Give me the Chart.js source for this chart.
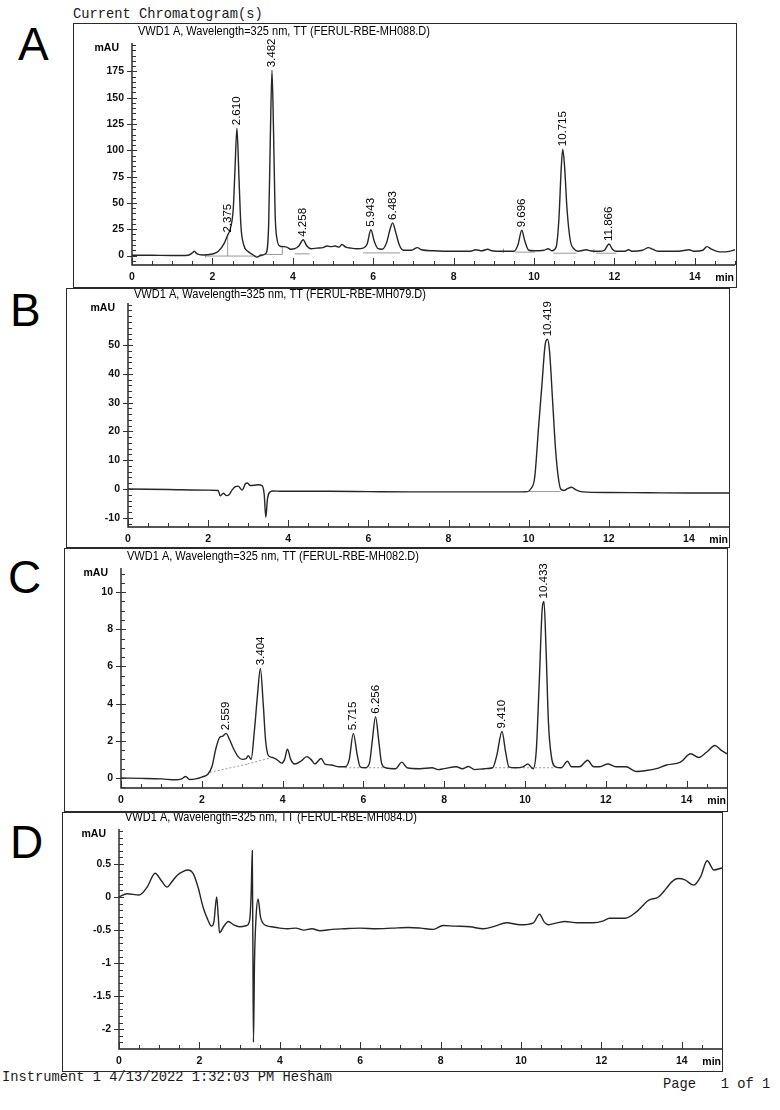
<!DOCTYPE html>
<html>
<head>
<meta charset="utf-8">
<script src="https://cdn.jsdelivr.net/npm/chart.js@4.4.0/dist/chart.umd.min.js"></script>
<style>
body { margin:0; width:780px; height:1110px; background:#fff; position:relative; overflow:hidden; font-family:"Liberation Sans", Arial, sans-serif; }
.mono { position:absolute; font-family:"Liberation Mono","DejaVu Sans Mono",monospace; font-size:13.75px; line-height:1; color:#1a1a1a; white-space:pre; }
.letter { position:absolute; font-size:46px; line-height:1; color:#000; }
.frame { position:absolute; border:1.6px solid #2a2a2a; box-sizing:border-box; }
canvas { position:absolute; }
</style>
</head>
<body>
<div class="mono" style="left:73px;top:8px">Current Chromatogram(s)</div>
<div class="mono" style="left:2px;top:1071px">Instrument 1 4/13/2022 1:32:03 PM Hesham</div>
<div class="mono" style="left:663px;top:1078px">Page   1 of 1</div>
<div class="letter" style="left:18px;top:21px">A</div>
<div class="letter" style="left:10px;top:287px">B</div>
<div class="letter" style="left:8px;top:554px">C</div>
<div class="letter" style="left:10px;top:819px">D</div>

<script>
// shared x axis (min)
var xTicks = [0, 2, 4, 6, 8, 10, 12, 14];

// A - FERUL-RBE-MH088.D
var timeA = [0, 0.5, 1.0, 1.4, 1.5, 1.55, 1.62, 1.75, 2.0, 2.15, 2.3, 2.375, 2.45, 2.52, 2.56, 2.61, 2.66, 2.71, 2.78, 2.88,
    3.0, 3.1, 3.2, 3.33, 3.4, 3.44, 3.482, 3.52, 3.56, 3.61, 3.68, 3.75, 3.85, 3.95, 4.05, 4.15, 4.258, 4.35, 4.45, 4.6,
    4.75, 4.85, 4.95, 5.05, 5.15, 5.22, 5.32, 5.45, 5.6, 5.75, 5.85, 5.943, 6.03, 6.12, 6.22, 6.33, 6.42, 6.483, 6.56, 6.65,
    6.75, 6.95, 7.1, 7.2, 7.5, 8.0, 8.4, 8.55, 8.7, 8.85, 8.95, 9.2, 9.5, 9.6, 9.696, 9.77, 9.87, 10.0, 10.25, 10.35,
    10.45, 10.55, 10.62, 10.68, 10.715, 10.76, 10.82, 10.9, 11.0, 11.1, 11.3, 11.4, 11.6, 11.75, 11.866, 11.95, 12.05, 12.25, 12.35, 12.45,
    12.7, 12.85, 12.95, 13.1, 13.5, 13.7, 13.85, 14.0, 14.2, 14.3, 14.42, 14.55, 14.7, 14.85, 15.0];
var mauA = [0.3, 0.2, 0, 0.3, 2.5, 4, 1.5, 0.5, 1.5, 4, 12, 19, 26, 45, 80, 121, 75, 28, 10, 4,
    1, -1.5, 0, 2, 30, 110, 176, 120, 40, 15, 9, 8.5, 8, 6, 6.5, 9, 15, 9, 6.5, 7,
    7.5, 9, 8.5, 9, 8, 10.5, 8, 7, 6.5, 7, 11, 24.5, 13, 6.5, 6, 12, 25, 31, 22, 10,
    5, 5, 7.5, 5.5, 4.5, 4, 4, 5.5, 4.5, 6, 4.5, 4, 4, 10, 24, 14, 5, 4.5, 5, 6.5,
    4.5, 8, 35, 85, 101, 85, 45, 15, 6, 4, 5.5, 4.5, 4, 5, 11, 6, 4, 4, 5.5, 4,
    5, 7.5, 6, 4, 4, 4.5, 5.5, 4, 5, 8.5, 6, 4, 3.5, 4, 5.5];
var peaksA = [2.375, 2.610, 3.482, 4.258, 5.943, 6.483, 9.696, 10.715, 11.866];
var yTicksA = [0, 25, 50, 75, 100, 125, 150, 175];
var baseA = [[1.83, -0.5, 3.10, -0.5], [2.38, -0.5, 2.38, 19], [1.83, -2, 1.83, 1.5], [3.17, 1, 3.74, 1], [3.74, 1, 3.74, 8],
    [4.05, 1.6, 4.42, 1.6], [5.75, 2.5, 6.67, 2.5], [9.24, 2.5, 9.24, 6.5], [9.53, 3.2, 10.02, 3.2], [10.48, 2.2, 11.06, 2.2],
    [11.49, 2.2, 11.49, 6], [11.55, 2.2, 12.05, 2.2]];

// B - FERUL-RBE-MH079.D
var timeB = [0, 1.0, 2.0, 2.25, 2.3, 2.38, 2.46, 2.52, 2.6, 2.68, 2.75, 2.85, 2.93, 2.98, 3.05, 3.15, 3.25, 3.35, 3.4, 3.44,
    3.48, 3.53, 3.62, 3.8, 5.0, 6.0, 7.0, 8.0, 9.0, 9.6, 9.97, 10.05, 10.15, 10.25, 10.33, 10.41, 10.47, 10.52, 10.6, 10.67,
    10.74, 10.8, 10.88, 10.98, 11.07, 11.18, 11.35, 12.0, 13.0, 14.0, 15.0];
var mauB = [0, -0.2, -0.4, -0.5, -2.4, -1.5, -2.3, -2.0, -0.3, 0.8, 1.0, -0.4, 1.8, 2.1, 1.2, 1.3, 1.5, 1.1, -2, -9.8,
    -3.5, -1.2, -0.7, -0.8, -0.8, -0.9, -1.0, -1.0, -1.0, -1.0, -0.9, 0, 4, 22, 36, 50, 52, 48, 30, 14,
    4, 0, -0.5, 0.2, 0.6, -0.3, -1.0, -1.2, -1.3, -1.4, -1.4];
var peaksB = [10.419];
var yTicksB = [-10, 0, 10, 20, 30, 40, 50];
var baseB = [[9.97, -0.9, 10.8, -0.9]];

// C - FERUL-RBE-MH082.D
var timeC = [0, 0.5, 1.0, 1.35, 1.5, 1.6, 1.7, 1.85, 2.0, 2.15, 2.25, 2.35, 2.45, 2.52, 2.6, 2.68, 2.78, 2.9, 3.0, 3.1,
    3.15, 3.22, 3.3, 3.38, 3.45, 3.52, 3.58, 3.65, 3.75, 3.85, 3.98, 4.05, 4.12, 4.2, 4.3, 4.45, 4.6, 4.7, 4.8, 4.95,
    5.05, 5.2, 5.4, 5.55, 5.65, 5.75, 5.85, 5.92, 6.05, 6.15, 6.22, 6.3, 6.38, 6.45, 6.55, 6.8, 6.95, 7.08, 7.4, 7.7,
    7.85, 8.0, 8.3, 8.45, 8.6, 8.75, 9.0, 9.2, 9.3, 9.43, 9.52, 9.6, 9.75, 9.95, 10.07, 10.2, 10.28, 10.35, 10.43, 10.47,
    10.52, 10.58, 10.65, 10.75, 10.9, 11.05, 11.15, 11.35, 11.55, 11.7, 11.85, 12.05, 12.25, 12.5, 12.75, 13.0, 13.25, 13.5, 13.85, 14.1,
    14.3, 14.5, 14.7, 14.85, 15.0];
var mauC = [0, -0.02, -0.05, -0.1, -0.05, 0.08, -0.08, -0.05, 0.05, 0.2, 0.6, 1.6, 2.2, 2.25, 2.4, 2.1, 1.6, 1.15, 1.0, 1.05,
    1.2, 1.0, 2.5, 4.5, 5.9, 4.0, 2.0, 1.2, 1.1, 1.0, 0.8, 1.0, 1.55, 1.0, 0.75, 0.9, 1.15, 1.0, 0.75, 1.05,
    0.75, 0.7, 0.6, 0.6, 1.0, 2.4, 1.2, 0.6, 0.55, 0.8, 2.0, 3.3, 2.0, 0.8, 0.55, 0.5, 0.85, 0.55, 0.5, 0.55,
    0.45, 0.5, 0.6, 0.5, 0.62, 0.45, 0.5, 0.55, 1.2, 2.5, 1.4, 0.6, 0.55, 0.6, 0.75, 0.5, 1.5, 5.0, 9.2, 9.5,
    7.0, 3.0, 1.2, 0.6, 0.55, 0.9, 0.6, 0.6, 0.95, 0.6, 0.6, 0.75, 0.6, 0.6, 0.35, 0.4, 0.5, 0.7, 0.85, 1.3,
    1.1, 1.4, 1.75, 1.5, 1.3];
var peaksC = [2.559, 3.404, 5.715, 6.256, 9.410, 10.433];
var yTicksC = [0, 2, 4, 6, 8, 10];
var baseC = [[2.2, 0.3, 3.13, 0.75], [3.13, 0.75, 3.77, 1.12], [5.55, 0.55, 6.54, 0.55], [9.26, 0.55, 10.7, 0.55]];

// D - FERUL-RBE-MH084.D
var timeD = [0, 0.2, 0.5, 0.7, 0.9, 1.05, 1.2, 1.3, 1.45, 1.6, 1.72, 1.85, 1.97, 2.09, 2.2, 2.3, 2.36, 2.43, 2.47, 2.5,
    2.6, 2.72, 2.85, 3.0, 3.18, 3.25, 3.29, 3.315, 3.33, 3.345, 3.37, 3.41, 3.46, 3.52, 3.62, 3.8, 4.0, 4.2, 4.4, 4.6,
    4.8, 5.0, 5.3, 5.6, 6.0, 6.4, 6.8, 7.2, 7.5, 7.82, 8.06, 8.35, 8.73, 9.06, 9.35, 9.64, 9.98, 10.31, 10.46, 10.58,
    10.68, 10.9, 11.09, 11.4, 11.8, 12.05, 12.2, 12.59, 12.88, 13.17, 13.42, 13.6, 13.75, 13.91, 14.08, 14.29, 14.47, 14.63, 14.8, 15.0];
var mauD = [0, 0.05, 0.03, 0.15, 0.36, 0.25, 0.15, 0.22, 0.33, 0.39, 0.41, 0.35, 0.14, -0.15, -0.33, -0.44, -0.38, 0.0, -0.3, -0.54,
    -0.45, -0.37, -0.42, -0.45, -0.43, -0.35, 0.1, 0.7, -0.7, -2.2, -1.0, -0.3, -0.03, -0.3, -0.42, -0.45, -0.47, -0.48, -0.47, -0.5,
    -0.48, -0.51, -0.49, -0.48, -0.47, -0.48, -0.47, -0.46, -0.47, -0.49, -0.43, -0.44, -0.45, -0.48, -0.44, -0.39, -0.42, -0.39, -0.26, -0.38,
    -0.42, -0.39, -0.37, -0.39, -0.39, -0.36, -0.32, -0.32, -0.22, -0.05, 0.0, 0.12, 0.23, 0.28, 0.26, 0.18, 0.31, 0.55, 0.41, 0.44];
var peaksD = [];
var yTicksD = [-2, -1.5, -1, -0.5, 0, 0.5];
var baseD = [];

var titleText = "VWD1 A, Wavelength=325 nm, TT (FERUL-RBE-";

function toPoints(t, v) {
    return t.map(function (x, i) { return { x: x, y: v[i] }; });
}

function segPoints(segs) {
    var pts = [];
    segs.forEach(function (s) {
        pts.push({ x: s[0], y: s[1] }, { x: s[2], y: s[3] }, { x: s[2], y: null });
    });
    return pts;
}

var chromPlugin = {
    id: "chrom",
    afterDraw: function (chart, args, o) {
        var ctx = chart.ctx, a = chart.chartArea, xs = chart.scales.x, ys = chart.scales.y;
        ctx.save();
        ctx.strokeStyle = "#1e1e1e";
        ctx.lineWidth = 1.4;
        ctx.beginPath();
        ctx.moveTo(a.left, a.top);
        ctx.lineTo(a.left, a.bottom);
        ctx.lineTo(a.right, a.bottom);
        ctx.stroke();

        // minor and major tick marks
        ctx.lineWidth = 1;
        ctx.strokeStyle = "#333";
        ctx.beginPath();
        for (var i = Math.ceil(ys.min / o.yMinor); i * o.yMinor <= ys.max; i++) {
            var py = Math.round(ys.getPixelForValue(i * o.yMinor)) + 0.5;
            ctx.moveTo(a.left, py);
            ctx.lineTo(a.left + 4, py);
        }
        o.yTicks.forEach(function (v) {
            var py = Math.round(ys.getPixelForValue(v)) + 0.5;
            ctx.moveTo(a.left - 5, py);
            ctx.lineTo(a.left + 5, py);
        });
        for (var k = 0; k <= 30; k++) {
            var px = Math.round(xs.getPixelForValue(k * 0.5)) + 0.5;
            var len = (k % 4 === 0) ? 7 : 4;
            ctx.moveTo(px, a.bottom);
            ctx.lineTo(px, a.bottom - len);
        }
        ctx.stroke();

        ctx.fillStyle = "#000";
        ctx.font = '12px "Liberation Sans", Arial, sans-serif';
        ctx.textAlign = "left";
        ctx.textBaseline = "middle";
        ctx.fillText(o.title, a.left + 6, o.titleY, 292);

        ctx.font = 'bold 10.5px "Liberation Sans", Arial, sans-serif';
        ctx.textAlign = "right";
        ctx.fillText("mAU", a.left - 13, a.top + 5);
        ctx.textBaseline = "top";
        ctx.fillText("min", a.right - 1, a.bottom + 8);

        // retention time labels, rotated
        var data = chart.data.datasets[0].data;
        ctx.font = '11.5px "Liberation Sans", Arial, sans-serif';
        ctx.textAlign = "left";
        ctx.textBaseline = "middle";
        o.peaks.forEach(function (rt) {
            var best = null;
            data.forEach(function (p) {
                if (Math.abs(p.x - rt) <= 0.065 && (!best || p.y > best.y)) best = p;
            });
            if (!best) return;
            ctx.save();
            ctx.translate(xs.getPixelForValue(best.x), ys.getPixelForValue(best.y) - 3);
            ctx.rotate(-Math.PI / 2);
            ctx.fillText(rt.toFixed(3), 0, 0);
            ctx.restore();
        });
        ctx.restore();
    }
};

var panels = [
    { box: [73, 23, 737, 288], plot: [132, 43, 735, 265], yRange: [-9, 202], yMinor: 5, titleY: 32, file: "MH088.D)",
      time: timeA, mau: mauA, peaks: peaksA, yTicks: yTicksA, base: baseA, dash: [] },
    { box: [66, 288, 730, 548], plot: [128, 303, 729, 527], yRange: [-13.2, 64.6], yMinor: 2, titleY: 295, file: "MH079.D)",
      time: timeB, mau: mauB, peaks: peaksB, yTicks: yTicksB, base: baseB, dash: [] },
    { box: [64, 548, 728, 812], plot: [121, 568, 727, 788], yRange: [-0.54, 11.3], yMinor: 0.5, titleY: 557, file: "MH082.D)",
      time: timeC, mau: mauC, peaks: peaksC, yTicks: yTicksC, base: baseC, dash: [2, 2] },
    { box: [62, 812, 723, 1072], plot: [119, 829, 722, 1049], yRange: [-2.3, 1.03], yMinor: 0.1, titleY: 818, file: "MH084.D)",
      time: timeD, mau: mauD, peaks: peaksD, yTicks: yTicksD, base: baseD, dash: [] }
];

var tickFont = { family: '"Liberation Sans", Arial, sans-serif', size: 10.5, weight: "bold" };

panels.forEach(function (p) {
    var frame = document.createElement("div");
    frame.className = "frame";
    frame.style.left = p.box[0] + "px";
    frame.style.top = p.box[1] + "px";
    frame.style.width = (p.box[2] - p.box[0]) + "px";
    frame.style.height = (p.box[3] - p.box[1]) + "px";

    var canvas = document.createElement("canvas");
    canvas.width = p.box[2] - p.box[0];
    canvas.height = p.box[3] - p.box[1];
    canvas.style.left = p.box[0] + "px";
    canvas.style.top = p.box[1] + "px";
    document.body.appendChild(canvas);
    document.body.appendChild(frame);

    new Chart(canvas.getContext("2d"), {
        type: "line",
        data: {
            datasets: [
                {
                    data: toPoints(p.time, p.mau),
                    borderColor: "#262626",
                    borderWidth: 1.4,
                    pointRadius: 0,
                    cubicInterpolationMode: "monotone",
                    fill: false
                },
                {
                    data: segPoints(p.base),
                    borderColor: "#999",
                    borderWidth: 1,
                    borderDash: p.dash,
                    pointRadius: 0,
                    spanGaps: false,
                    fill: false
                }
            ]
        },
        options: {
            responsive: false,
            animation: false,
            devicePixelRatio: 1,
            layout: {
                padding: { left: 0, top: p.plot[1] - p.box[1], right: p.box[2] - p.plot[2], bottom: 0 }
            },
            plugins: {
                legend: { display: false },
                tooltip: { enabled: false },
                chrom: {
                    title: titleText + p.file,
                    titleY: p.titleY - p.box[1],
                    yTicks: p.yTicks,
                    yMinor: p.yMinor,
                    peaks: p.peaks
                }
            },
            scales: {
                x: {
                    type: "linear",
                    min: 0,
                    max: 15,
                    afterBuildTicks: function (s) { s.ticks = xTicks.map(function (v) { return { value: v }; }); },
                    afterFit: function (s) { s.height = p.box[3] - p.plot[3]; },
                    grid: { display: false, drawTicks: false },
                    border: { display: false },
                    ticks: { autoSkip: false, maxRotation: 0, padding: 6, color: "#111", font: tickFont,
                        callback: function (v) { return String(v); } }
                },
                y: {
                    type: "linear",
                    min: p.yRange[0],
                    max: p.yRange[1],
                    afterBuildTicks: function (s) { s.ticks = p.yTicks.map(function (v) { return { value: v }; }); },
                    afterFit: function (s) { s.width = p.plot[0] - p.box[0]; },
                    grid: { display: false, drawTicks: false },
                    border: { display: false },
                    ticks: { autoSkip: false, padding: 8, color: "#111", font: tickFont,
                        callback: function (v) { return String(v); } }
                }
            }
        },
        plugins: [chromPlugin]
    });
});
</script>
</body>
</html>
